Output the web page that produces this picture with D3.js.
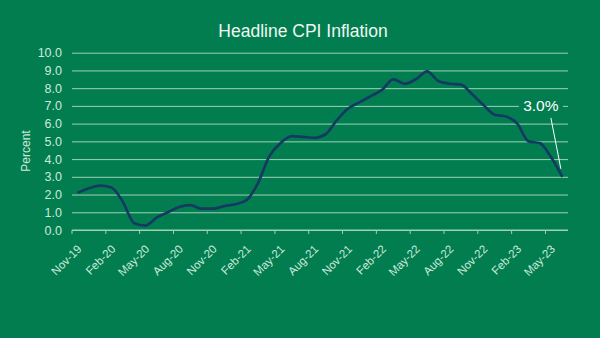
<!DOCTYPE html>
<html>
<head>
<meta charset="utf-8">
<script src="https://cdn.jsdelivr.net/npm/d3@7"></script>
<style>
  html, body { margin: 0; padding: 0; background: #027d50; }
  svg { display: block; }
  text { font-family: "Liberation Sans", Arial, sans-serif; }
</style>
</head>
<body>
<svg id="chart" width="600" height="338"></svg>
<script>
// Monthly headline CPI inflation, year over year (percent)
const months = [
  "Nov-19","Dec-19","Jan-20","Feb-20","Mar-20","Apr-20","May-20","Jun-20","Jul-20","Aug-20","Sep-20","Oct-20",
  "Nov-20","Dec-20","Jan-21","Feb-21","Mar-21","Apr-21","May-21","Jun-21","Jul-21","Aug-21","Sep-21","Oct-21",
  "Nov-21","Dec-21","Jan-22","Feb-22","Mar-22","Apr-22","May-22","Jun-22","Jul-22","Aug-22","Sep-22","Oct-22",
  "Nov-22","Dec-22","Jan-23","Feb-23","Mar-23","Apr-23","May-23","Jun-23"
];
const inflation = [
  2.1, 2.35, 2.5, 2.4, 1.6, 0.4, 0.25, 0.7, 1.0, 1.3, 1.4, 1.2,
  1.2, 1.35, 1.45, 1.7, 2.65, 4.15, 4.9, 5.3, 5.25, 5.2, 5.4, 6.2,
  6.85, 7.2, 7.55, 7.9, 8.5, 8.25, 8.5, 8.95, 8.4, 8.25, 8.2, 7.65,
  7.05, 6.5, 6.4, 6.0, 5.0, 4.9, 4.1, 3.0
];
// Every third month gets a tick label
const tickLabels = ["Nov-19","Feb-20","May-20","Aug-20","Nov-20","Feb-21","May-21","Aug-21",
  "Nov-21","Feb-22","May-22","Aug-22","Nov-22","Feb-23","May-23"];
const yTicks = [0,1,2,3,4,5,6,7,8,9,10];

const svg = d3.select("#chart");
const W = 600, H = 338;
const plotLeft = 72, plotRight = 568, plotTop = 52.7, plotBottom = 230;

const textCol = "#cdeadb";
const gridCol = "#9fd1b4";
const lineCol = "#153a62";
const bgCol = "#027d50";

svg.append("rect").attr("width", W).attr("height", H).attr("fill", bgCol);

const x = d3.scaleBand().domain(months).range([plotLeft, plotRight]).padding(0);
const y = d3.scaleLinear().domain([0, 10]).range([plotBottom, plotTop]);
const cx = m => x(m) + x.bandwidth() / 2;

// Title
svg.append("text")
  .attr("x", 303).attr("y", 37)
  .attr("text-anchor", "middle")
  .attr("fill", "#eef8f1")
  .style("font-size", "17.5px")
  .text("Headline CPI Inflation");

// Horizontal gridlines with y labels
const yAxis = d3.axisLeft(y).tickValues(yTicks).tickFormat(d3.format(".1f"))
  .tickSize(-(plotRight - plotLeft)).tickPadding(10);
const gy = svg.append("g").attr("transform", `translate(${plotLeft},0)`).call(yAxis);
gy.select(".domain").remove();
gy.selectAll(".tick line").attr("stroke", gridCol).attr("stroke-width", 1);
gy.selectAll(".tick text").attr("fill", textCol)
  .style("font-size", "12.5px").style("font-family", "Liberation Sans, Arial, sans-serif");

// Axis title
svg.append("text")
  .attr("transform", `translate(30,151) rotate(-90)`)
  .attr("text-anchor", "middle")
  .attr("fill", textCol)
  .style("font-size", "12px")
  .text("Percent");

// Category axis: ticks on boundaries, labels on the month centres
const gx = svg.append("g").attr("transform", `translate(0,${plotBottom})`);
gx.append("line").attr("x1", plotLeft).attr("x2", plotRight).attr("stroke", gridCol).attr("stroke-width", 1);
gx.selectAll("line.tk").data(tickLabels).join("line")
  .attr("class", "tk")
  .attr("x1", d => x(d)).attr("x2", d => x(d))
  .attr("y1", 0).attr("y2", 4)
  .attr("stroke", gridCol);
gx.selectAll("text").data(tickLabels).join("text")
  .attr("transform", d => `translate(${cx(d) - 1},${14}) rotate(-45)`)
  .attr("text-anchor", "end")
  .attr("dy", "0.7em")
  .attr("fill", textCol)
  .style("font-size", "11.5px")
  .text(d => d);

// Inflation line
const line = d3.line()
  .x((d, i) => cx(months[i]))
  .y(d => y(d))
  .curve(d3.curveMonotoneX);
svg.append("path")
  .datum(inflation)
  .attr("d", line)
  .attr("fill", "none")
  .attr("stroke", lineCol)
  .attr("stroke-width", 2.7)
  .attr("stroke-linejoin", "round");

// Callout for the latest reading
const lastM = months[months.length - 1];
const lastV = inflation[inflation.length - 1];
const px = cx(lastM), py = y(lastV);
const lx = px - 21.5, ly = y(7.0) + 5;
svg.append("rect")
  .attr("x", lx - 22).attr("y", ly - 15).attr("width", 44).attr("height", 20)
  .attr("fill", bgCol);
svg.append("text")
  .attr("x", lx).attr("y", ly)
  .attr("text-anchor", "middle")
  .attr("fill", "#ffffff")
  .style("font-size", "15.5px")
  .text(d3.format(".1f")(lastV) + "%");
svg.append("line")
  .attr("x1", lx + 10).attr("y1", ly + 7)
  .attr("x2", px - 1.5).attr("y2", py - 8)
  .attr("stroke", "#ffffff").attr("stroke-width", 1);
</script>
</body>
</html>
